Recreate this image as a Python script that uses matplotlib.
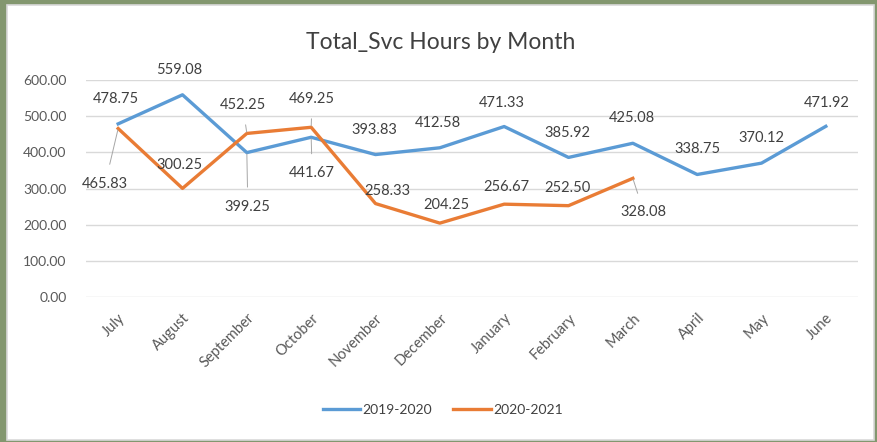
import matplotlib.pyplot as plt
from matplotlib.patches import Rectangle

months = ["July", "August", "September", "October", "November", "December",
          "January", "February", "March", "April", "May", "June"]
hours_1920 = [478.75, 559.08, 399.25, 441.67, 393.83, 412.58,
              471.33, 385.92, 425.08, 338.75, 370.12, 471.92]
hours_2021 = [465.83, 300.25, 452.25, 469.25, 258.33, 204.25,
              256.67, 252.50, 328.08]
yticks = [0, 100, 200, 300, 400, 500, 600]

# label offsets in pixels (dx, dy), leader line flag
off_1920 = [(-2, 25, False), (-3, 25, False), (1, -54, True), (1, -36, True),
            (-1, 25, False), (-2, 25, False), (-2, 24, False), (-1, 24, False),
            (-1, 25, False), (0, 25, False), (0, 25, False), (1, 23, False)]
off_2021 = [(-13, -55, True), (-3, 23, False), (-4, 28, True), (1, 28, True),
            (12, 13, False), (7, 18, False), (2, 17, False), (-1, 18, False),
            (11, -34, True)]

BLUE = "#5B9BD5"
ORANGE = "#E97C35"
TXT = "#404040"
plt.rcParams['font.family'] = ["Lato", "DejaVu Sans"]

fig = plt.figure(figsize=(8.77, 4.42), dpi=100, facecolor="#83976F")
fig.patches.append(Rectangle((7 / 877, 2 / 442), 867 / 877, 435 / 442,
                             transform=fig.transFigure, facecolor="white",
                             edgecolor="#D9D9D9", linewidth=1.2, zorder=-10))

ax = fig.add_axes([86 / 877, 145 / 442, 772 / 877, 217 / 442])
ax.set_facecolor("none")
x1 = list(range(len(hours_1920)))
x2 = list(range(len(hours_2021)))
ax.plot(x1, hours_1920, color=BLUE, linewidth=2.4, label="2019-2020",
        solid_joinstyle="round", zorder=3)
ax.plot(x2, hours_2021, color=ORANGE, linewidth=2.4, label="2020-2021",
        solid_joinstyle="round", zorder=3)

def label(xs, ys, offs):
    for xi, yi, (dx, dy, lead) in zip(xs, ys, offs):
        ap = None
        if lead:
            ap = dict(arrowstyle="-", color="#A6A6A6", lw=0.7,
                      shrinkA=7, shrinkB=1)
        ax.annotate(f"{yi:.2f}", (xi, yi), xytext=(dx, dy),
                    textcoords="offset pixels", ha="center", va="center",
                    fontsize=10.5, color=TXT, arrowprops=ap, zorder=4)

label(x1, hours_1920, off_1920)
label(x2, hours_2021, off_2021)

ax.set_xlim(-0.5, len(months) - 0.5)
ax.set_ylim(0, 600)
ax.set_yticks(yticks)
ax.set_yticklabels([f"{v:.2f}" for v in yticks], fontsize=10, color="#595959")
ax.set_xticks(x1)
ax.set_xticklabels(months, rotation=45, ha="right", va="top",
                   rotation_mode="anchor", fontsize=10.5, color="#595959")
ax.tick_params(length=0, axis="y", pad=14)
ax.tick_params(length=0, axis="x", pad=10)
ax.grid(axis="y", color="#D9D9D9", linewidth=1)
ax.set_axisbelow(True)
for s in ax.spines.values():
    s.set_visible(False)

fig.text(0.502, 0.903, "Total_Svc Hours by Month", ha="center", va="center",
         fontsize=16.5, color="#404040")

fig.legend(loc="center", bbox_to_anchor=(0.505, 0.073), ncol=2, frameon=False,
           fontsize=10, handlelength=2.7, columnspacing=1.5, handletextpad=0.2,
           labelcolor="#404040")

fig.savefig("out.png", dpi=100, facecolor=fig.get_facecolor())
